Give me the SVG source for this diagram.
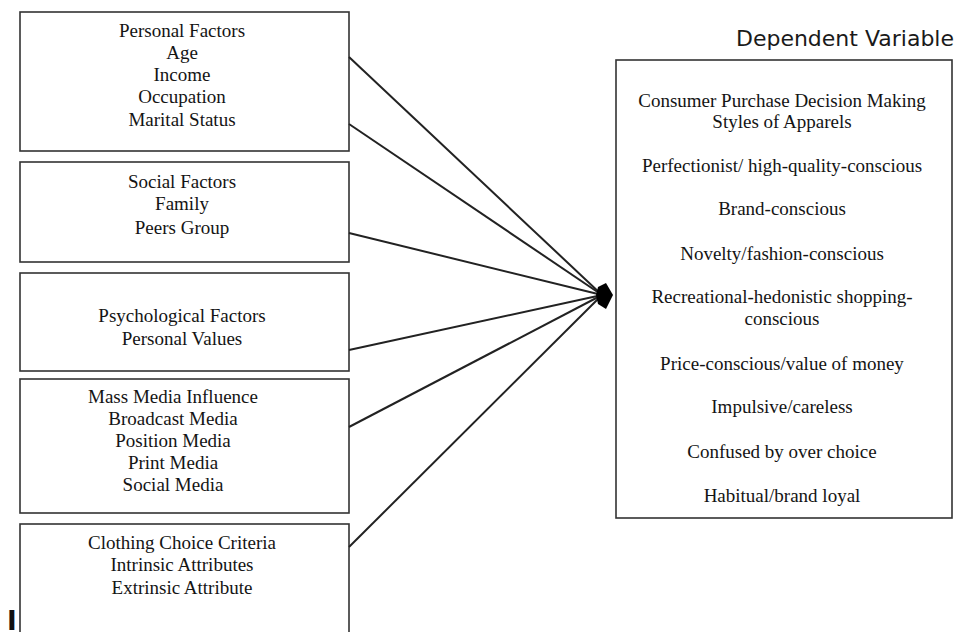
<svg xmlns="http://www.w3.org/2000/svg" width="960" height="632" viewBox="0 0 960 632">
  <style>
    .box { fill: #ffffff; stroke: #333333; stroke-width: 1.6; }
    .t { font-family: "Liberation Serif", "Times New Roman", serif; font-size: 19px; fill: #141414; text-anchor: middle; }
    .link { stroke: #222222; stroke-width: 2; fill: none; }
    .hdr { font-family: "DejaVu Sans", Verdana, sans-serif; font-size: 22px; fill: #1a1a1a; text-anchor: end; }
  </style>
  <rect width="960" height="632" fill="#ffffff"/>

  <!-- independent factor boxes -->
  <g id="personal-factors">
    <rect class="box" x="20" y="12" width="329" height="139"/>
    <text class="t" x="182" y="37">Personal Factors</text>
    <text class="t" x="182" y="59">Age</text>
    <text class="t" x="182" y="81">Income</text>
    <text class="t" x="182" y="103">Occupation</text>
    <text class="t" x="182" y="126">Marital Status</text>
  </g>
  <g id="social-factors">
    <rect class="box" x="20" y="162" width="329" height="100"/>
    <text class="t" x="182" y="188">Social Factors</text>
    <text class="t" x="182" y="210">Family</text>
    <text class="t" x="182" y="234">Peers Group</text>
  </g>
  <g id="psychological-factors">
    <rect class="box" x="20" y="273" width="329" height="98"/>
    <text class="t" x="182" y="322">Psychological Factors</text>
    <text class="t" x="182" y="345">Personal Values</text>
  </g>
  <g id="mass-media">
    <rect class="box" x="20" y="379" width="329" height="134"/>
    <text class="t" x="173" y="403">Mass Media Influence</text>
    <text class="t" x="173" y="425">Broadcast Media</text>
    <text class="t" x="173" y="447">Position Media</text>
    <text class="t" x="173" y="469">Print Media</text>
    <text class="t" x="173" y="491">Social Media</text>
  </g>
  <g id="clothing-choice">
    <rect class="box" x="20" y="524" width="329" height="120"/>
    <text class="t" x="182" y="549">Clothing Choice Criteria</text>
    <text class="t" x="182" y="571">Intrinsic Attributes</text>
    <text class="t" x="182" y="594">Extrinsic Attribute</text>
  </g>

  <text x="7" y="630" font-family="DejaVu Sans, sans-serif" font-size="26" font-weight="bold" fill="#111111">I</text>

  <!-- dependent variable -->
  <text class="hdr" x="954" y="46">Dependent Variable</text>
  <g id="decision-styles">
    <rect class="box" x="616" y="60" width="336" height="458"/>
    <text class="t" x="782" y="107">Consumer Purchase Decision Making</text>
    <text class="t" x="782" y="128">Styles of Apparels</text>
    <text class="t" x="782" y="172">Perfectionist/ high-quality-conscious</text>
    <text class="t" x="782" y="215">Brand-conscious</text>
    <text class="t" x="782" y="260">Novelty/fashion-conscious</text>
    <text class="t" x="782" y="303">Recreational-hedonistic shopping-</text>
    <text class="t" x="782" y="325">conscious</text>
    <text class="t" x="782" y="370">Price-conscious/value of money</text>
    <text class="t" x="782" y="413">Impulsive/careless</text>
    <text class="t" x="782" y="458">Confused by over choice</text>
    <text class="t" x="782" y="502">Habitual/brand loyal</text>
  </g>

  <!-- connectors converging on the arrowhead -->
  <g id="connectors">
    <line class="link" x1="349" y1="57" x2="602" y2="295"/>
    <line class="link" x1="349" y1="124" x2="602" y2="295"/>
    <line class="link" x1="349" y1="233" x2="602" y2="295"/>
    <line class="link" x1="349" y1="350" x2="602" y2="295"/>
    <line class="link" x1="349" y1="427" x2="602" y2="295"/>
    <line class="link" x1="349" y1="547" x2="602" y2="295"/>
    <polygon points="613,295 606,283 598,287 596,295 598,304 606,309" fill="#000000"/>
  </g>
</svg>
